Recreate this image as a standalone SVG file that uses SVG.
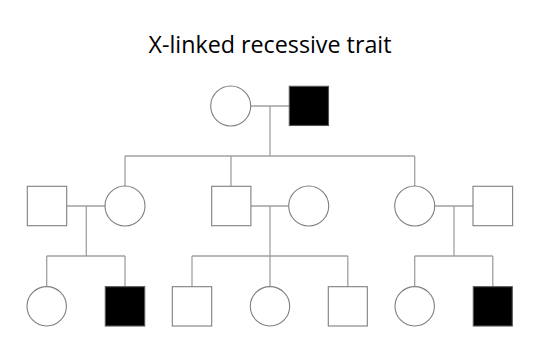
<svg xmlns="http://www.w3.org/2000/svg" width="540" height="360" viewBox="0 0 540 360">
<style>
.t{font-family:"Open Sans","Liberation Sans",Arial,sans-serif;font-size:24px;fill:#000}
.f{fill:#fff;stroke:#7f7f7f;stroke-width:1.1}
.a{fill:#000;stroke:#555;stroke-width:1.1}
.c line{stroke:#a0a0a0;stroke-width:1.3}
</style>
<rect width="540" height="360" fill="#fff"/>
<text class="t" x="270" y="53" text-anchor="middle" textLength="243" lengthAdjust="spacingAndGlyphs">X-linked recessive trait</text>
<g class="c" id="connectors">
<line x1="250.7" y1="106" x2="289.3" y2="106"/>
<line x1="270" y1="106" x2="270" y2="156"/>
<line x1="125" y1="156" x2="414.7" y2="156"/>
<line x1="125" y1="156" x2="125" y2="186"/>
<line x1="231" y1="156" x2="231" y2="186"/>
<line x1="414.7" y1="156" x2="414.7" y2="186"/>
<line x1="66.7" y1="206" x2="105" y2="206"/>
<line x1="86.3" y1="206" x2="86.3" y2="256"/>
<line x1="46.7" y1="256" x2="125" y2="256"/>
<line x1="46.7" y1="256" x2="46.7" y2="286"/>
<line x1="125" y1="256" x2="125" y2="286.7"/>
<line x1="250.7" y1="206" x2="288.7" y2="206"/>
<line x1="270" y1="206" x2="270" y2="256"/>
<line x1="192" y1="256" x2="347.8" y2="256"/>
<line x1="192" y1="256" x2="192" y2="286.7"/>
<line x1="270" y1="256" x2="270" y2="286"/>
<line x1="347.8" y1="256" x2="347.8" y2="286.7"/>
<line x1="434.7" y1="206" x2="473" y2="206"/>
<line x1="454" y1="206" x2="454" y2="256"/>
<line x1="414.7" y1="256" x2="492.8" y2="256"/>
<line x1="414.7" y1="256" x2="414.7" y2="286"/>
<line x1="492.8" y1="256" x2="492.8" y2="286.7"/>
</g>
<g id="gp-mother"><circle class="f" cx="230.7" cy="106" r="20"/></g>
<g id="gp-father"><rect class="a" x="289.3" y="86.3" width="39.2" height="39.2"/></g>
<g id="p1-husband"><rect class="f" x="27.3" y="186.3" width="39.4" height="39.4"/></g>
<g id="p1-daughter"><circle class="f" cx="125" cy="206" r="20"/></g>
<g id="p2-son"><rect class="f" x="211.7" y="186.3" width="39.2" height="39.4"/></g>
<g id="p2-wife"><circle class="f" cx="308.7" cy="206" r="20"/></g>
<g id="p3-daughter"><circle class="f" cx="414.7" cy="206" r="20"/></g>
<g id="p3-husband"><rect class="f" x="473" y="186.3" width="39.6" height="39.4"/></g>
<g id="c1-girl"><circle class="f" cx="46.7" cy="306.3" r="19.7"/></g>
<g id="c1-boy"><rect class="a" x="105.3" y="286.7" width="39.4" height="39.3"/></g>
<g id="c2-boy1"><rect class="f" x="172.3" y="286.7" width="39.4" height="39.3"/></g>
<g id="c2-girl"><circle class="f" cx="270" cy="306.3" r="19.7"/></g>
<g id="c2-boy2"><rect class="f" x="328.3" y="286.7" width="39" height="39.3"/></g>
<g id="c3-girl"><circle class="f" cx="414.7" cy="306.3" r="19.7"/></g>
<g id="c3-boy"><rect class="a" x="473.3" y="286.7" width="39" height="39.3"/></g>
</svg>
